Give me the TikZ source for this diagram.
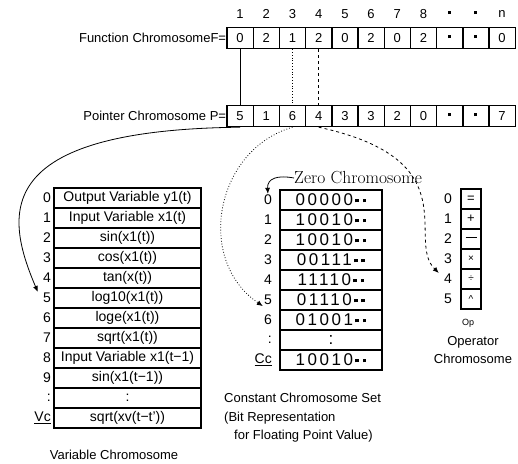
\documentclass[tikz,border=0pt]{standalone}
\usepackage{fontspec}
\setsansfont{Liberation Sans}
\newfontfamily\bitfont[LetterSpace=15]{Liberation Sans}
\usetikzlibrary{arrows.meta}
\newcommand{\sq}{\rule[0.2em]{0.22em}{0.22em}}
\newcommand{\sqq}{\hspace{0.12em}\sq\hspace{0.22em}\sq}
\tikzset{%
  >={Latex[width=5pt,length=6pt]},
  % Specifications for style of nodes:
       cell/.style = {rectangle, draw=black, line width=1.4pt,
                      minimum width=26.2pt, minimum height=21pt, inner sep=0pt,
                      font=\sffamily\fontsize{13}{15}\selectfont},
      vcell/.style = {cell, minimum width=147pt, minimum height=20pt,
                      font=\sffamily\fontsize{14}{15}\selectfont},
      ccell/.style = {cell, minimum width=102pt, minimum height=20pt,
                      font=\bitfont\fontsize{17}{19}\selectfont},
      ocell/.style = {cell, minimum width=20pt, minimum height=20pt,
                      font=\sffamily\fontsize{13}{14}\selectfont},
        idx/.style = {anchor=east, inner sep=1pt,
                      font=\sffamily\fontsize{14}{15}\selectfont},
        txt/.style = {inner sep=0pt, font=\sffamily\fontsize{13}{15}\selectfont},
       link/.style = {line width=0.8pt}
}

\begin{document}
\begin{tikzpicture}[x=1pt, y=-1pt]
  \useasboundingbox (0,0) rectangle (518,463);

  % Specification of nodes (position, etc.)
  % function and pointer chromosomes
  \foreach \i/\f/\p/\n in {1/0/5/1, 2/2/1/2, 3/1/6/3, 4/2/4/4, 5/0/3/5, 6/2/3/6,
      7/0/2/7, 8/2/0/8, 9/\sq/\sq/\sq, 10/\sq/\sq/\sq, 11/0/7/n} {
    \node (n\i) [txt] at ({213.9+26.2*\i}, 14) {\n};
    \node (f\i) [cell] at ({213.9+26.2*\i}, 38) {\f};
    \node (p\i) [cell] at ({213.9+26.2*\i}, 116) {\p};
  }
  \node (flabel) [txt, anchor=east] at (f1.west) {Function ChromosomeF=};
  \node (plabel) [txt, anchor=east] at (p1.west) {Pointer Chromosome P=};

  % variable chromosome
  \foreach \i/\t/\l in {0/Output Variable y1(t)/0, 1/Input Variable x1(t)/1,
      2/sin(x1(t))/2, 3/cos(x1(t))/3, 4/tan(x(t))/4, 5/log10(x1(t))/5,
      6/loge(x1(t))/6, 7/sqrt(x1(t))/7, 8/Input Variable x1(t−1)/8,
      9/sin(x1(t−1))/9, 10/:/:, 11/sqrt(xv(t−t'))/\underline{Vc}} {
    \node (v\i) [vcell] at (127.5, {198+20*\i}) {\t};
    \node (vl\i) [idx] at (52, {198+20*\i}) {\l};
  }
  \node (vcap) [txt] at (114, 455) {Variable Chromosome};

  % constant chromosome set
  \foreach \i/\t/\l in {1/10010\sqq/1, 2/10010\sqq/2, 3/00111\sqq/3,
      4/11110\sqq/4, 5/01110\sqq/5, 6/01001\sqq/6, 7/:/:,
      8/10010\sqq/\underline{Cc}} {
    \node (c\i) [ccell] at (331, {200+20*\i}) {\t};
    \node (cl\i) [idx] at (273, {200+20*\i}) {\l};
  }
  \node (c0) [ccell, line width=2pt] at (331, 200) {00000\sqq};
  \node (cl0) [idx] at (273, 200) {0};
  \node (ccap) [txt, anchor=north west, align=left,
      font=\sffamily\fontsize{13}{18.5}\selectfont] at (224, 393)
      {Constant Chromosome Set\\ (Bit Representation\\ \hspace*{10pt}for Floating Point Value)};
  \node (zero) [anchor=west, inner sep=0pt,
      font=\rmfamily\fontsize{17.5}{19}\selectfont] at (294, 178) {Zero Chromosome};

  % operator chromosome
  \foreach \i/\t in {0/=, 1/+, 2/\rule[0.3em]{11pt}{0.8pt}, 3/{\fontsize{10}{11}\selectfont ×},
      4/{\fontsize{10}{11}\selectfont ÷}, 5/{\fontsize{10}{11}\selectfont\textasciicircum}} {
    \node (o\i) [ocell] at (471, {199+20*\i}) {\t};
    \node (ol\i) [idx] at (453, {199+20*\i}) {\i};
  }
  \node (op) [txt, font=\sffamily\fontsize{9}{10}\selectfont] at (468, 323) {Op};
  \node (opcap) [txt, align=center, font=\sffamily\fontsize{13}{17.5}\selectfont]
      at (473, 350) {Operator\\ Chromosome};

  % Specification of lines between nodes specified above
  \draw[link]         (f1.south) -- (p1.north);
  \draw[link, dotted] (f3.south) -- (p3.north);
  \draw[link, dashed] (f4.south) -- (p4.north);
  \draw[link, ->]     (p1.south) .. controls (-10,130) and (5,215) .. ([xshift=-4pt]vl5.north west);
  \draw[link, dotted, ->] (p3.south) .. controls (215,150) and (195,260) .. (cl5.south west);
  \draw[link, dashed, ->] (p4.south) .. controls (470,160) and (405,240) .. ([xshift=-4pt]ol4.north west);
  \draw[link, ->]     (zero.west) .. controls (278,175) and (267,178) .. (cl0.north);
\end{tikzpicture}
\end{document}
